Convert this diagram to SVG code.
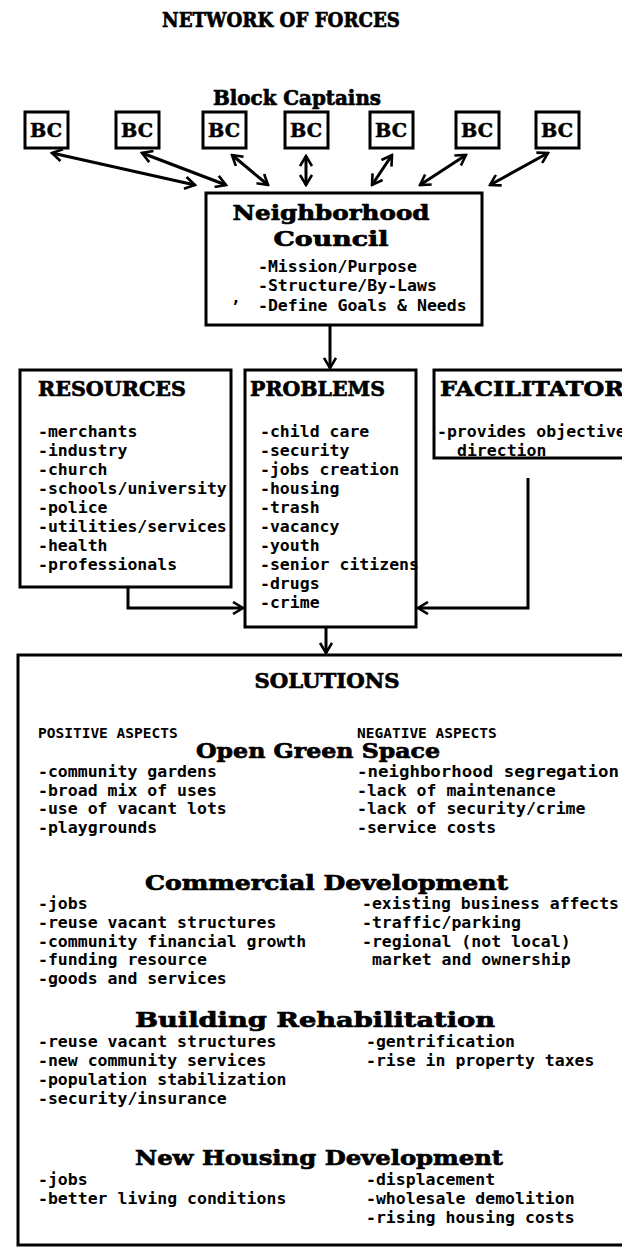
<svg xmlns="http://www.w3.org/2000/svg" width="622" height="1254" viewBox="0 0 622 1254">
<style>
.box{fill:none;stroke:#000;stroke-width:3}
.hd{font-family:"DejaVu Serif","Liberation Serif",serif;font-weight:bold;font-size:21px;fill:#000;stroke:#000;stroke-width:0.7}
.it{font-family:"DejaVu Sans Mono","Liberation Mono",monospace;font-weight:bold;font-size:16.5px;fill:#000}
.sm{font-family:"DejaVu Sans Mono","Liberation Mono",monospace;font-weight:bold;font-size:14.5px;fill:#000}
.bc{font-family:"DejaVu Serif","Liberation Serif",serif;font-weight:bold;font-size:18px;fill:#000;stroke:#000;stroke-width:0.5}
.ln{fill:none;stroke:#000;stroke-width:3}
.c{text-anchor:middle}
</style>
<defs>
<marker id="ah" viewBox="0 0 14 14" refX="12" refY="7" markerWidth="14" markerHeight="14" markerUnits="userSpaceOnUse" orient="auto-start-reverse">
<path d="M2,1 L12,7 L2,13" fill="none" stroke="#000" stroke-width="2.6"/>
</marker>
</defs>
<rect width="622" height="1254" fill="#fff"/>

<g id="title">
<text class="hd c" x="281" y="27" font-size="18" textLength="238" lengthAdjust="spacingAndGlyphs" stroke-width="1">NETWORK OF FORCES</text>
</g>

<g id="block-captains">
<text class="hd c" x="297" y="105" font-size="19" textLength="168" lengthAdjust="spacingAndGlyphs">Block Captains</text>
<g id="bc1"><rect class="box" x="25" y="112" width="43" height="36"/><text class="bc c" x="46" y="137" textLength="32" lengthAdjust="spacingAndGlyphs">BC</text></g>
<g id="bc2"><rect class="box" x="116" y="112" width="43" height="36"/><text class="bc c" x="137" y="137" textLength="32" lengthAdjust="spacingAndGlyphs">BC</text></g>
<g id="bc3"><rect class="box" x="203" y="112" width="43" height="36"/><text class="bc c" x="224" y="137" textLength="32" lengthAdjust="spacingAndGlyphs">BC</text></g>
<g id="bc4"><rect class="box" x="285" y="112" width="43" height="36"/><text class="bc c" x="306" y="137" textLength="32" lengthAdjust="spacingAndGlyphs">BC</text></g>
<g id="bc5"><rect class="box" x="370" y="112" width="43" height="36"/><text class="bc c" x="391" y="137" textLength="32" lengthAdjust="spacingAndGlyphs">BC</text></g>
<g id="bc6"><rect class="box" x="456" y="112" width="43" height="36"/><text class="bc c" x="477" y="137" textLength="32" lengthAdjust="spacingAndGlyphs">BC</text></g>
<g id="bc7"><rect class="box" x="536" y="112" width="43" height="36"/><text class="bc c" x="557" y="137" textLength="32" lengthAdjust="spacingAndGlyphs">BC</text></g>
</g>

<g id="neighborhood-council">
<rect class="box" x="206" y="193" width="276" height="132"/>
<text class="hd c" x="331" y="220" textLength="197" lengthAdjust="spacingAndGlyphs">Neighborhood</text>
<text class="hd c" x="331" y="246" textLength="115" lengthAdjust="spacingAndGlyphs">Council</text>
<text class="it" x="258" y="272">-Mission/Purpose</text>
<text class="it" x="258" y="291">-Structure/By-Laws</text>
<text class="it" x="258" y="311">-Define Goals &amp; Needs</text>
<text class="it" x="231" y="303">,</text>
</g>

<g id="resources">
<rect class="box" x="20" y="370" width="211" height="217"/>
<text class="hd" x="38" y="396" textLength="148" lengthAdjust="spacingAndGlyphs">RESOURCES</text>
<text class="it" x="38" y="437">-merchants</text>
<text class="it" x="38" y="456">-industry</text>
<text class="it" x="38" y="475">-church</text>
<text class="it" x="38" y="494">-schools/university</text>
<text class="it" x="38" y="513">-police</text>
<text class="it" x="38" y="532">-utilities/services</text>
<text class="it" x="38" y="551">-health</text>
<text class="it" x="38" y="570">-professionals</text>
</g>

<g id="problems">
<rect class="box" x="245" y="370" width="171" height="257"/>
<text class="hd" x="250" y="396" textLength="135" lengthAdjust="spacingAndGlyphs">PROBLEMS</text>
<text class="it" x="260" y="437">-child care</text>
<text class="it" x="260" y="456">-security</text>
<text class="it" x="260" y="475">-jobs creation</text>
<text class="it" x="260" y="494">-housing</text>
<text class="it" x="260" y="513">-trash</text>
<text class="it" x="260" y="532">-vacancy</text>
<text class="it" x="260" y="551">-youth</text>
<text class="it" x="260" y="570">-senior citizens</text>
<text class="it" x="260" y="589">-drugs</text>
<text class="it" x="260" y="608">-crime</text>
</g>

<g id="facilitator">
<rect class="box" x="434" y="370" width="200" height="88"/>
<text class="hd" x="440" y="396" textLength="184" lengthAdjust="spacingAndGlyphs">FACILITATOR</text>
<text class="it" x="437" y="437">-provides objective</text>
<text class="it" x="457" y="456">direction</text>
</g>

<g id="solutions">
<rect class="box" x="18" y="655" width="612" height="590"/>
<text class="hd c" x="327" y="688" textLength="145" lengthAdjust="spacingAndGlyphs">SOLUTIONS</text>
<text class="sm" x="38" y="738">POSITIVE ASPECTS</text>
<text class="sm" x="357" y="738">NEGATIVE ASPECTS</text>
<text class="hd" x="196" y="758" font-size="20" textLength="244" lengthAdjust="spacingAndGlyphs">Open Green Space</text>
<text class="it" x="38" y="777">-community gardens</text>
<text class="it" x="38" y="796">-broad mix of uses</text>
<text class="it" x="38" y="814">-use of vacant lots</text>
<text class="it" x="38" y="833">-playgrounds</text>
<text class="it" x="357" y="777" textLength="262" lengthAdjust="spacingAndGlyphs">-neighborhood segregation</text>
<text class="it" x="357" y="796">-lack of maintenance</text>
<text class="it" x="357" y="814">-lack of security/crime</text>
<text class="it" x="357" y="833">-service costs</text>

<text class="hd" x="145" y="890" textLength="363" lengthAdjust="spacingAndGlyphs">Commercial Development</text>
<text class="it" x="38" y="909">-jobs</text>
<text class="it" x="38" y="928">-reuse vacant structures</text>
<text class="it" x="38" y="947">-community financial growth</text>
<text class="it" x="38" y="965">-funding resource</text>
<text class="it" x="38" y="984">-goods and services</text>
<text class="it" x="362" y="909" textLength="257" lengthAdjust="spacingAndGlyphs">-existing business affects</text>
<text class="it" x="362" y="928">-traffic/parking</text>
<text class="it" x="362" y="947">-regional (not local)</text>
<text class="it" x="372" y="965">market and ownership</text>

<text class="hd" x="135" y="1027" textLength="360" lengthAdjust="spacingAndGlyphs">Building Rehabilitation</text>
<text class="it" x="38" y="1047">-reuse vacant structures</text>
<text class="it" x="38" y="1066">-new community services</text>
<text class="it" x="38" y="1085">-population stabilization</text>
<text class="it" x="38" y="1104">-security/insurance</text>
<text class="it" x="366" y="1047">-gentrification</text>
<text class="it" x="366" y="1066">-rise in property taxes</text>

<text class="hd" x="135" y="1165" textLength="368" lengthAdjust="spacingAndGlyphs">New Housing Development</text>
<text class="it" x="38" y="1185">-jobs</text>
<text class="it" x="38" y="1204">-better living conditions</text>
<text class="it" x="366" y="1185">-displacement</text>
<text class="it" x="366" y="1204">-wholesale demolition</text>
<text class="it" x="366" y="1223">-rising housing costs</text>
</g>

<g id="connectors">
<line class="ln" x1="52" y1="153" x2="195" y2="185" marker-start="url(#ah)" marker-end="url(#ah)"/>
<line class="ln" x1="142" y1="153" x2="226" y2="185" marker-start="url(#ah)" marker-end="url(#ah)"/>
<line class="ln" x1="232" y1="155" x2="268" y2="185" marker-start="url(#ah)" marker-end="url(#ah)"/>
<line class="ln" x1="306" y1="156" x2="306" y2="185" marker-start="url(#ah)" marker-end="url(#ah)"/>
<line class="ln" x1="392" y1="155" x2="372" y2="185" marker-start="url(#ah)" marker-end="url(#ah)"/>
<line class="ln" x1="466" y1="155" x2="420" y2="185" marker-start="url(#ah)" marker-end="url(#ah)"/>
<line class="ln" x1="548" y1="153" x2="490" y2="185" marker-start="url(#ah)" marker-end="url(#ah)"/>
<path class="ln" d="M330,326 V368" marker-end="url(#ah)"/>
<path class="ln" d="M128,587 V608 H243" marker-end="url(#ah)"/>
<path class="ln" d="M528,478 V608 H418" marker-end="url(#ah)"/>
<path class="ln" d="M326,627 V653" marker-end="url(#ah)"/>
</g>
</svg>
